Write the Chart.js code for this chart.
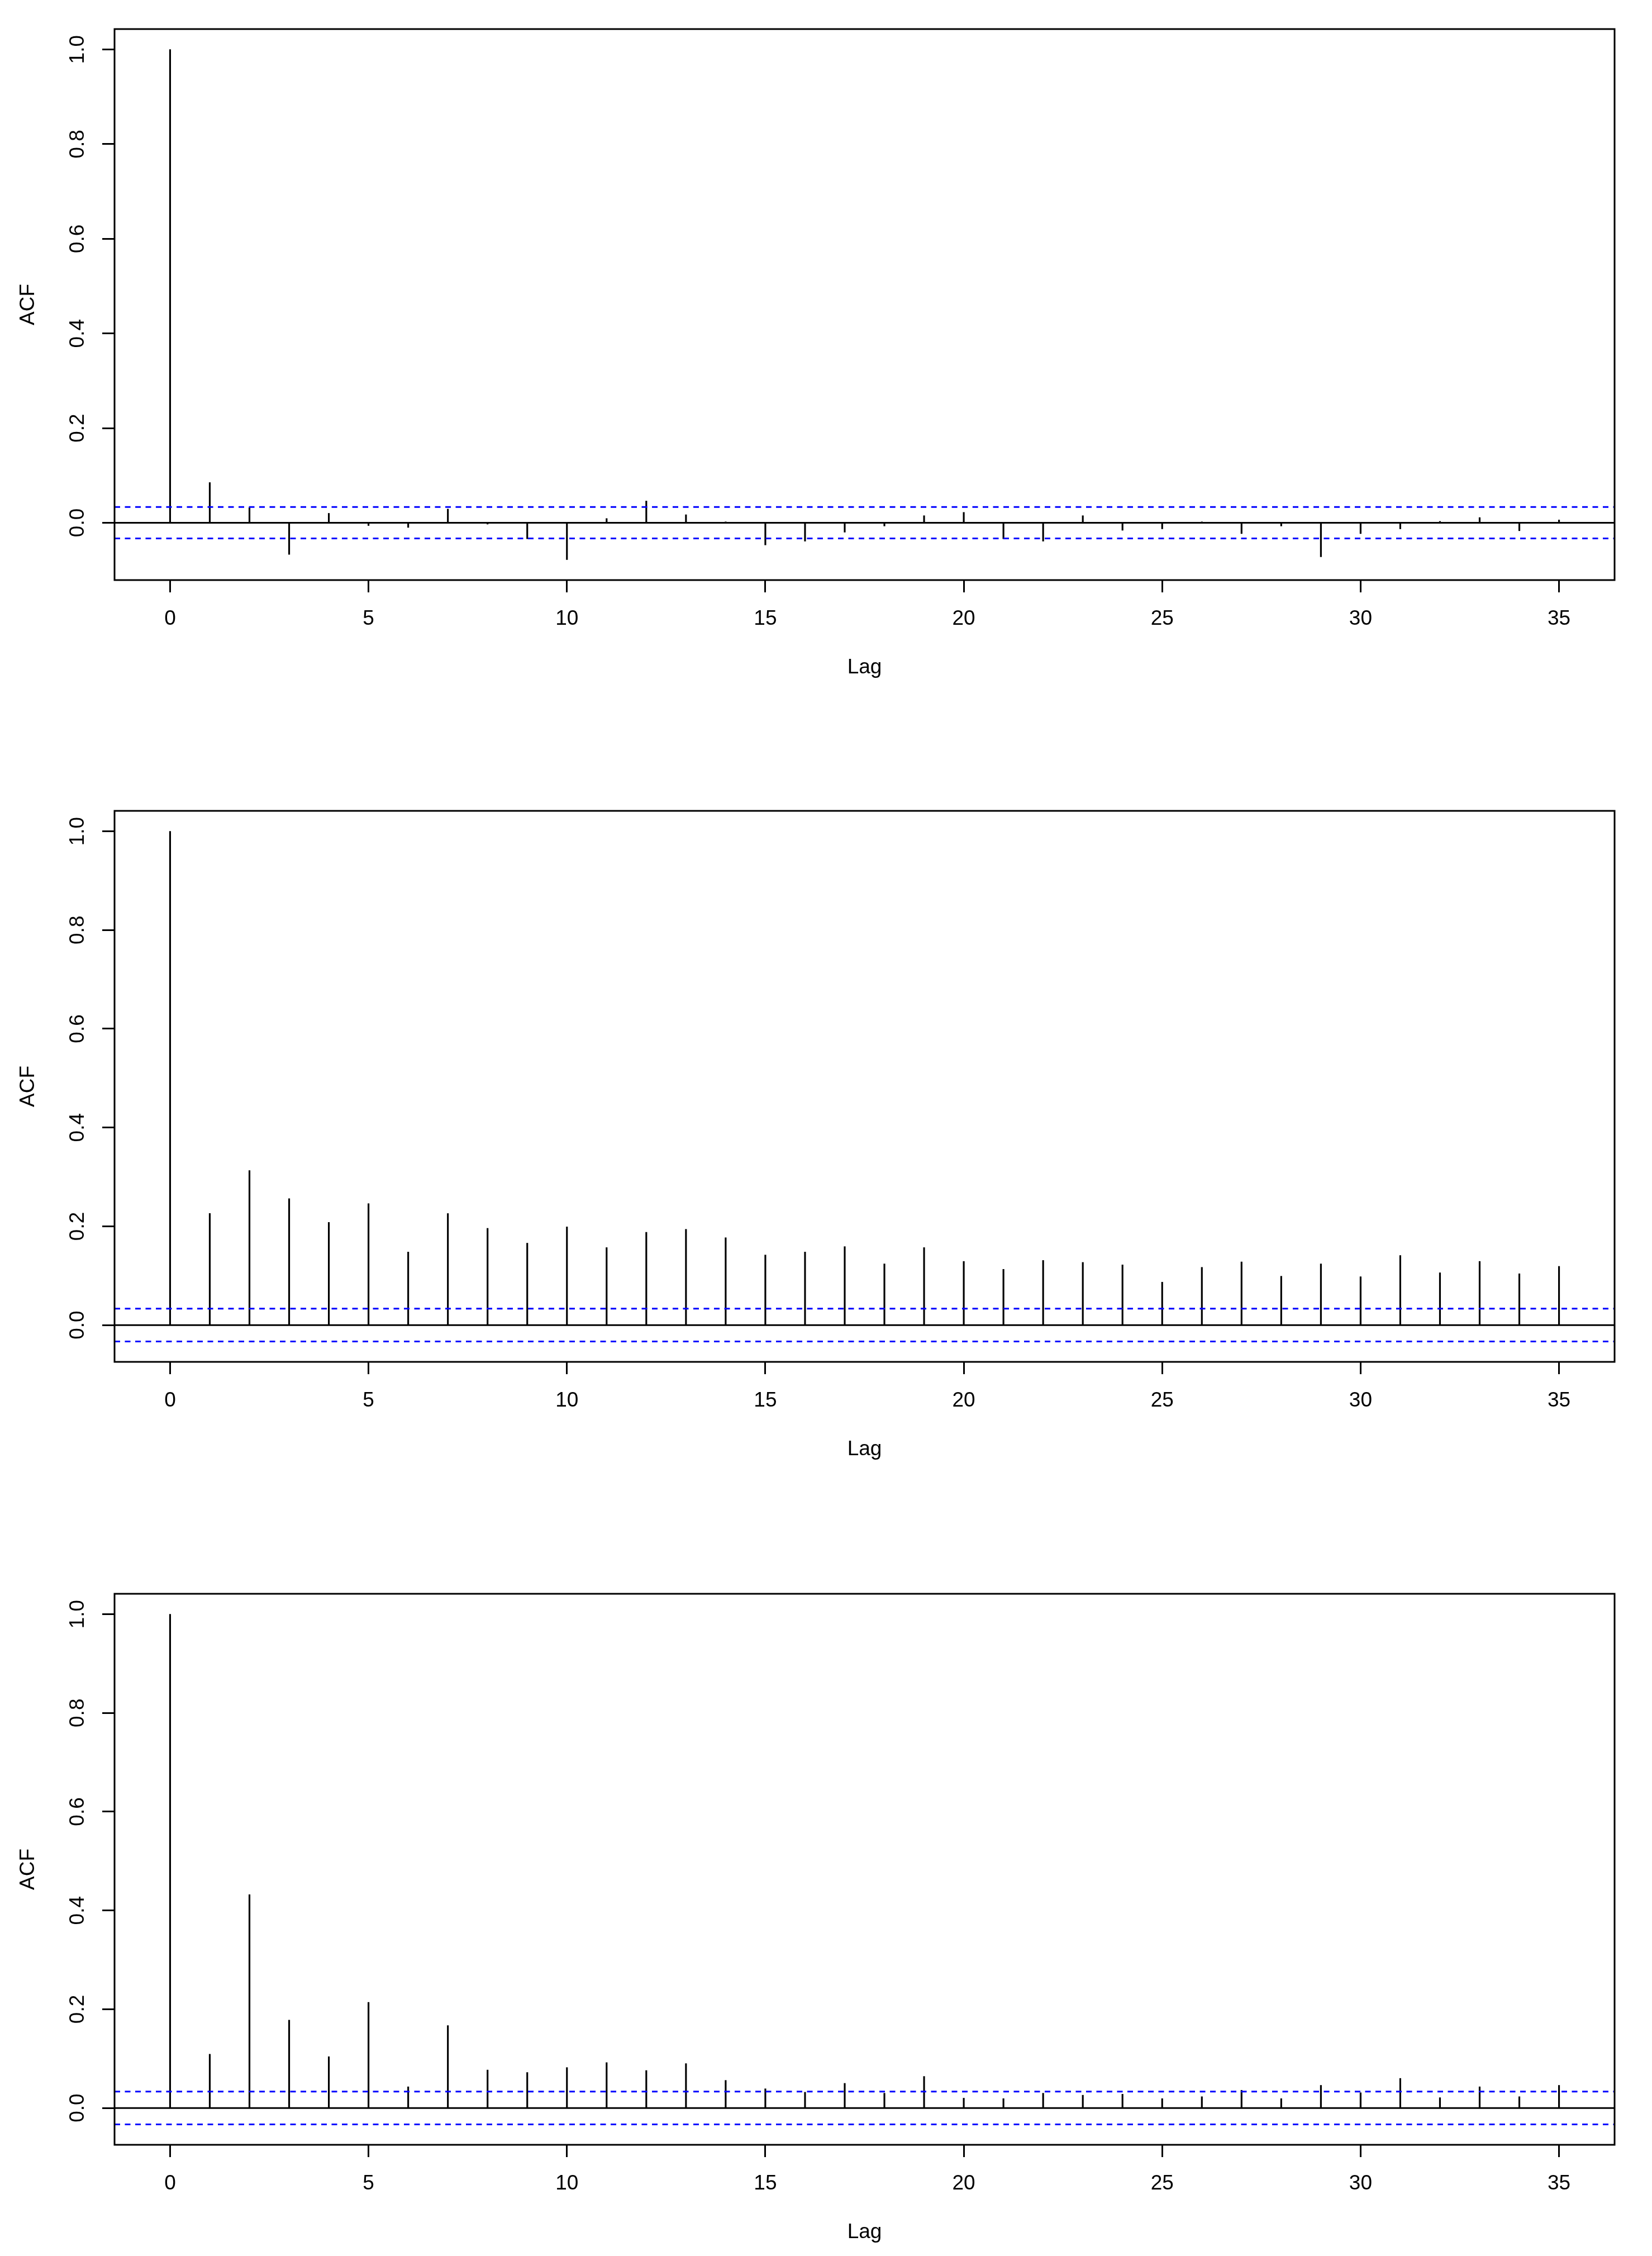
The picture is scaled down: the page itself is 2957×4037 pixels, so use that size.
<!DOCTYPE html>
<html>
<head>
<meta charset="utf-8">
<script src="https://cdn.jsdelivr.net/npm/chart.js@4.4.1/dist/chart.umd.min.js"></script>
<style>
    body { margin: 0; background: #fff; width: 2957px; height: 4037px; overflow: hidden; position: relative; }
    canvas { position: absolute; left: 0; }
</style>
</head>
<body>
<canvas id="graficoAcf1" width="2957" height="1238" style="top:0px"></canvas>
<canvas id="graficoAcf2" width="2957" height="1238" style="top:1399px"></canvas>
<canvas id="graficoAcf3" width="2957" height="1238" style="top:2800px"></canvas>
<script>
// dados
const lags = [0, 1, 2, 3, 4, 5, 6, 7, 8, 9, 10, 11, 12, 13, 14, 15, 16, 17, 18, 19, 20, 21, 22, 23, 24, 25, 26, 27, 28, 29, 30, 31, 32, 33, 34, 35];

const acfSerie1 = [1, 0.085, 0.032, -0.067, 0.020, -0.006, -0.010, 0.029, -0.003, -0.034, -0.078, 0.009, 0.046, 0.017, 0.002, -0.047, -0.039, -0.020, -0.007, 0.015, 0.022, -0.034, -0.039, 0.015, -0.016, -0.013, 0.002, -0.023, -0.007, -0.072, -0.023, -0.013, 0.003, 0.011, -0.017, 0.006];
const acfSerie2 = [1, 0.226, 0.313, 0.256, 0.208, 0.246, 0.148, 0.226, 0.196, 0.166, 0.199, 0.157, 0.188, 0.194, 0.177, 0.142, 0.148, 0.159, 0.124, 0.157, 0.129, 0.113, 0.131, 0.127, 0.122, 0.087, 0.117, 0.128, 0.099, 0.124, 0.098, 0.141, 0.106, 0.129, 0.104, 0.119];
const acfSerie3 = [1, 0.109, 0.432, 0.178, 0.104, 0.214, 0.043, 0.167, 0.077, 0.072, 0.082, 0.092, 0.076, 0.090, 0.056, 0.039, 0.032, 0.050, 0.030, 0.064, 0.020, 0.019, 0.030, 0.026, 0.028, 0.019, 0.023, 0.036, 0.019, 0.046, 0.031, 0.060, 0.021, 0.043, 0.023, 0.046];

// limite do intervalo de confianca (linhas azuis)
const limiteIC = 0.0332;

const ticksLag = [0, 5, 10, 15, 20, 25, 30, 35];
const ticksAcf = [0, 0.2, 0.4, 0.6, 0.8, 1.0];
const rotulosAcf = ['0.0', '0.2', '0.4', '0.6', '0.8', '1.0'];

const fonte = { family: "'Liberation Sans', Arial, Helvetica, sans-serif", size: 37 };

// moldura em volta da area do grafico (estilo R)
const moldura = {
    id: 'moldura',
    afterDraw(chart) {
        const a = chart.chartArea;
        const ctx = chart.ctx;
        ctx.save();
        ctx.strokeStyle = '#000';
        ctx.lineWidth = 3;
        ctx.strokeRect(a.left, a.top, a.right - a.left, a.bottom - a.top);
        ctx.restore();
    }
};

grafAcf('graficoAcf1', acfSerie1);
grafAcf('graficoAcf2', acfSerie2);
grafAcf('graficoAcf3', acfSerie3);

function grafAcf(idCanvas, valores) {

    // limites como no R: faixa dos dados + 4%
    const minimo = Math.min(-limiteIC, ...valores);
    const maximo = Math.max(limiteIC, ...valores);
    const yMin = minimo - 0.04 * (maximo - minimo);
    const yMax = maximo + 0.04 * (maximo - minimo);
    const xMin = lags[0] - 0.04 * (lags[lags.length - 1] - lags[0]);
    const xMax = lags[lags.length - 1] + 0.04 * (lags[lags.length - 1] - lags[0]);

    const pontos = lags.map((l, i) => ({ x: l, y: valores[i] }));

    const linhaH = (y) => [{ x: xMin, y: y }, { x: xMax, y: y }];

    const data = {
        datasets: [{
            type: 'bar',
            data: pontos,
            backgroundColor: '#000',
            borderWidth: 0,
            barThickness: 2.5,
            order: 3
        }, {
            type: 'line',
            data: linhaH(0),
            borderColor: '#000',
            borderWidth: 3,
            pointRadius: 0,
            order: 2
        }, {
            type: 'line',
            data: linhaH(limiteIC),
            borderColor: '#0000ff',
            borderWidth: 3,
            borderDash: [10, 8.5],
            pointRadius: 0,
            order: 1
        }, {
            type: 'line',
            data: linhaH(-limiteIC),
            borderColor: '#0000ff',
            borderWidth: 3,
            borderDash: [10, 8.5],
            pointRadius: 0,
            order: 1
        }]
    };

    const config = {
        type: 'bar',
        data: data,
        plugins: [moldura],
        options: {
            responsive: false,
            animation: false,
            devicePixelRatio: 1,
            layout: { padding: { top: 52, right: 67, left: 0, bottom: 0 } },
            plugins: {
                legend: { display: false },
                tooltip: { enabled: false }
            },
            scales: {
                x: {
                    type: 'linear',
                    min: xMin,
                    max: xMax,
                    offset: false,
                    afterFit: function (s) { s.height = 200; },
                    afterBuildTicks: function (s) { s.ticks = ticksLag.map(v => ({ value: v })); },
                    grid: { offset: false, drawOnChartArea: false, drawTicks: true, tickLength: 22, lineWidth: 3, color: '#000' },
                    border: { display: false },
                    ticks: {
                        color: '#000', font: fonte, padding: 26, autoSkip: false,
                        minRotation: 0, maxRotation: 0,
                        callback: function (v) { return String(v); }
                    },
                    title: { display: true, text: 'Lag', color: '#000', font: fonte, padding: { top: 0, bottom: 21 } }
                },
                y: {
                    type: 'linear',
                    min: yMin,
                    max: yMax,
                    afterFit: function (s) { s.width = 205; },
                    afterBuildTicks: function (s) { s.ticks = ticksAcf.map(v => ({ value: v })); },
                    grid: { drawOnChartArea: false, drawTicks: true, tickLength: 22, lineWidth: 3, color: '#000' },
                    border: { display: false },
                    ticks: {
                        color: '#000', font: fonte, padding: 17, autoSkip: false,
                        minRotation: 90, maxRotation: 90, crossAlign: 'center',
                        callback: function (v, i) { return rotulosAcf[i]; }
                    },
                    title: { display: true, text: 'ACF', color: '#000', font: fonte, padding: { top: 29, bottom: 0 } }
                }
            }
        }
    };

    const ctx = document.getElementById(idCanvas).getContext('2d');
    const meuGrafico = new Chart(ctx, config);
};
</script>
</body>
</html>
